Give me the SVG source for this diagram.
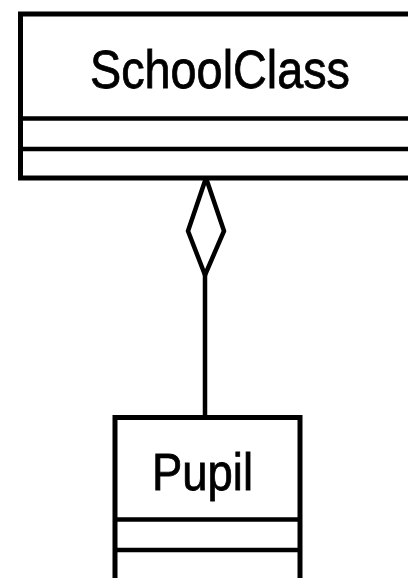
<svg xmlns="http://www.w3.org/2000/svg" width="408" height="578" viewBox="0 0 408 578">
<style>
.box{fill:#fff;stroke:#000;stroke-width:5}
.div{stroke:#000;stroke-width:4.5}
.lbl{font-family:"Liberation Sans",Arial,sans-serif;fill:#000;stroke:#000;stroke-width:0.8}
.conn{stroke:#000;stroke-width:4.5;fill:none}
</style>
<rect width="408" height="578" fill="#fff"/>
<g id="connectors">
<line class="conn" x1="205" y1="274" x2="205" y2="417"/>
<polygon class="conn" points="206,178 224,231 205,275 188,231" stroke-linejoin="round"/>
</g>
<g id="SchoolClass">
<rect class="box" x="20.5" y="14" width="400" height="164"/>
<line class="div" x1="20" y1="118.5" x2="420" y2="118.5"/>
<line class="div" x1="20" y1="149" x2="420" y2="149"/>
<text class="lbl" x="90" y="88" font-size="53" textLength="260" lengthAdjust="spacingAndGlyphs">SchoolClass</text>
</g>
<g id="Pupil">
<rect class="box" x="115" y="417.5" width="185" height="180"/>
<line class="div" x1="115" y1="519.5" x2="300" y2="519.5"/>
<line class="div" x1="115" y1="550" x2="300" y2="550"/>
<text class="lbl" x="152" y="490" font-size="52" textLength="101" lengthAdjust="spacingAndGlyphs">Pupil</text>
</g>
</svg>
